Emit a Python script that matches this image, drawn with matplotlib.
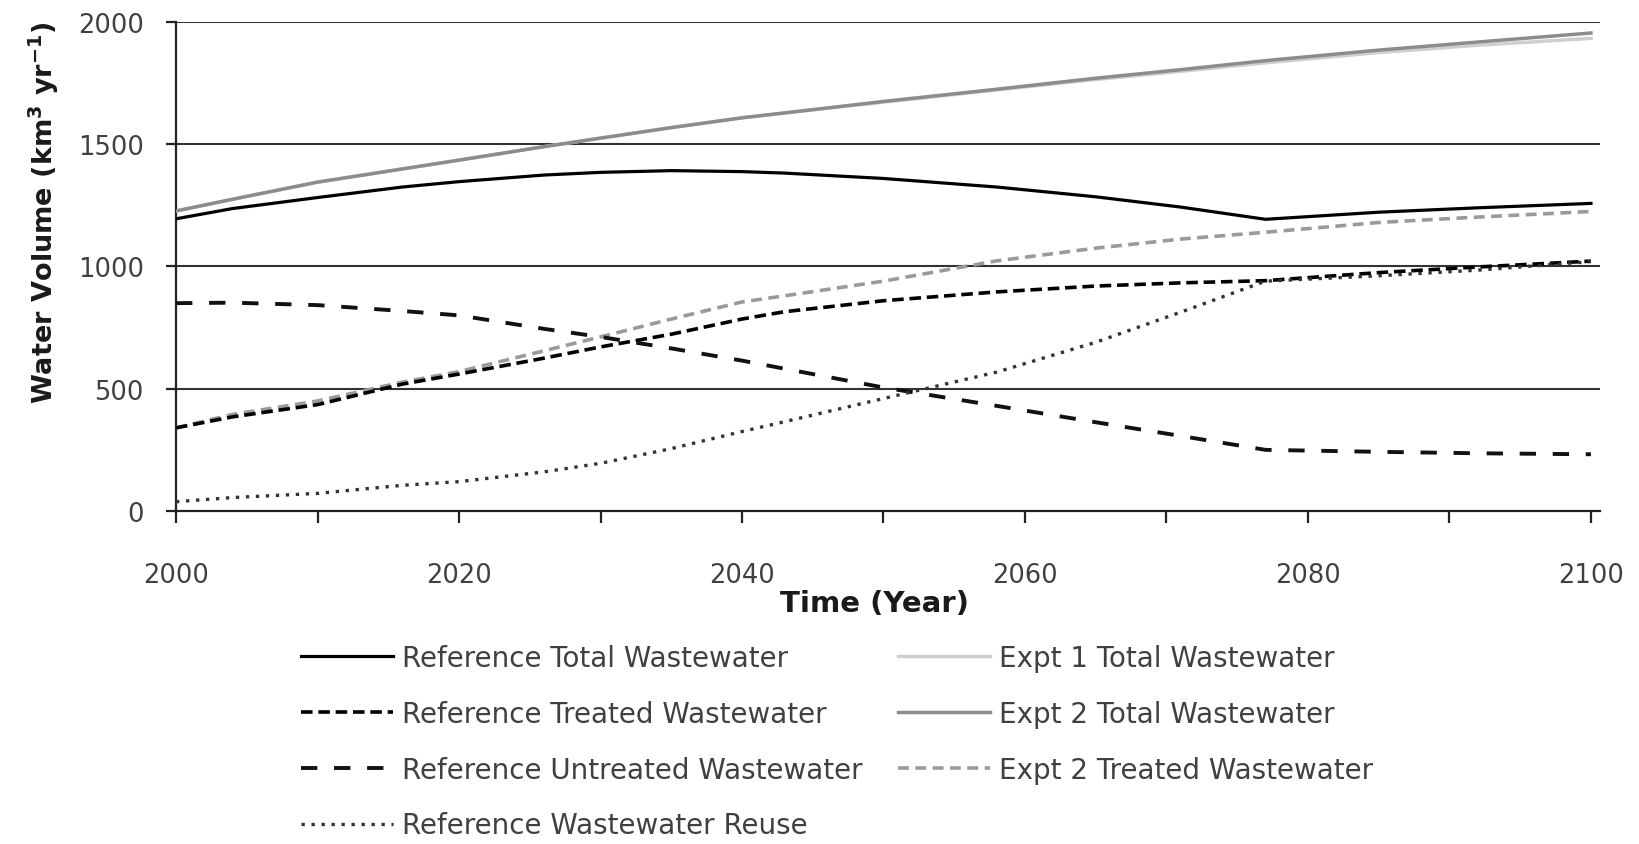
import numpy as np
import matplotlib.pyplot as plt
from matplotlib.ticker import MultipleLocator

plt.rcParams['font.family'] = ['DejaVu Sans']
plt.rcParams['mathtext.fontset'] = 'dejavusans'

# sample years shared by all series (km3 per year)
years = [2000, 2004, 2010, 2016, 2020, 2026, 2030, 2035, 2040, 2043,
         2050, 2058, 2065, 2071, 2077, 2085, 2092, 2100]

ref_total = [1195, 1237, 1282, 1325, 1347, 1374, 1385, 1392, 1388, 1382,
             1360, 1325, 1285, 1243, 1193, 1222, 1240, 1258]
ref_treated = [340, 385, 435, 519, 560, 625, 671, 723, 785, 815,
               860, 896, 920, 933, 942, 975, 998, 1022]
ref_untreated = [850, 852, 842, 818, 800, 745, 712, 665, 615, 582,
                 505, 430, 363, 307, 250, 242, 236, 232]
ref_reuse = [38, 55, 72, 105, 120, 160, 195, 255, 325, 365,
             460, 568, 690, 813, 940, 962, 985, 1020]
expt1_total = [1227, 1275, 1345, 1399, 1435, 1490, 1525, 1568, 1608, 1628,
               1672, 1722, 1765, 1798, 1833, 1875, 1905, 1933]
expt2_total = [1227, 1275, 1345, 1399, 1435, 1490, 1525, 1568, 1608, 1628,
               1675, 1725, 1770, 1805, 1842, 1885, 1918, 1955]
expt2_treated = [340, 395, 450, 527, 570, 655, 712, 785, 855, 880,
                 940, 1023, 1075, 1112, 1140, 1180, 1202, 1225]

fig = plt.figure(figsize=(16.39, 8.45), dpi=100)
ax = fig.add_axes([0.1074, 0.3941, 0.8688, 0.5787])

# horizontal gridlines behind the data
for yv in [500, 1000, 1500, 2000]:
    ax.axhline(yv, color='#333333', lw=1.5, zorder=1)

ax.plot(years, ref_total, color='black', lw=2.3, label='Reference Total Wastewater', zorder=5)
ax.plot(years, ref_treated, color='black', lw=2.6, dashes=(3.2, 1.6),
        label='Reference Treated Wastewater', zorder=4)
ax.plot(years, ref_untreated, color='#111111', lw=2.8, dashes=(4.2, 4.3),
        label='Reference Untreated Wastewater', zorder=4)
ax.plot(years, ref_reuse, color='#333333', lw=2.4, dashes=(1.0, 2.0),
        label='Reference Wastewater Reuse', zorder=4)
ax.plot(years, expt1_total, color='#cfcfcf', lw=2.5, label='Expt 1 Total Wastewater', zorder=3)
ax.plot(years, expt2_total, color='#8c8c8c', lw=2.5, label='Expt 2 Total Wastewater', zorder=3)
ax.plot(years, expt2_treated, color='#9a9a9a', lw=2.6, dashes=(3.0, 1.8),
        label='Expt 2 Treated Wastewater', zorder=3)

ax.set_xlim(2000, 2100.64)
ax.set_ylim(0, 2000)

ax.spines['top'].set_visible(False)
ax.spines['right'].set_visible(False)
for s in ['left', 'bottom']:
    ax.spines[s].set_linewidth(1.6)
    ax.spines[s].set_color('#222222')

ax.xaxis.set_major_locator(MultipleLocator(20))
ax.xaxis.set_minor_locator(MultipleLocator(10))
ax.yaxis.set_major_locator(MultipleLocator(500))
ax.tick_params(axis='x', which='both', direction='out', length=8.6, width=1.6,
               color='#222222', pad=28)
ax.tick_params(axis='x', which='major', labelsize=18.5, labelcolor='#404040')
ax.tick_params(axis='y', direction='out', length=7.2, width=1.6, color='#222222',
               pad=16, labelsize=18.5, labelcolor='#404040')

ax.set_xlabel('Time (Year)', fontsize=21, fontweight='bold', color='#1a1a1a',
              labelpad=1, x=0.4905)
ax.set_ylabel(r'Water Volume (km$^\mathbf{3}$ yr$^\mathbf{-1}$)', fontsize=19.5,
              fontweight='bold', color='#1a1a1a', labelpad=12, y=0.611)

fig.legend(loc='upper left', bbox_to_anchor=(301 / 1639, 1 - 645 / 845), ncol=2,
           frameon=False, fontsize=20, handlelength=3.3, handletextpad=0.32,
           columnspacing=1.3, labelspacing=1.0, borderpad=0, borderaxespad=0,
           labelcolor='#404040')

fig.savefig('out.png', dpi=100)
